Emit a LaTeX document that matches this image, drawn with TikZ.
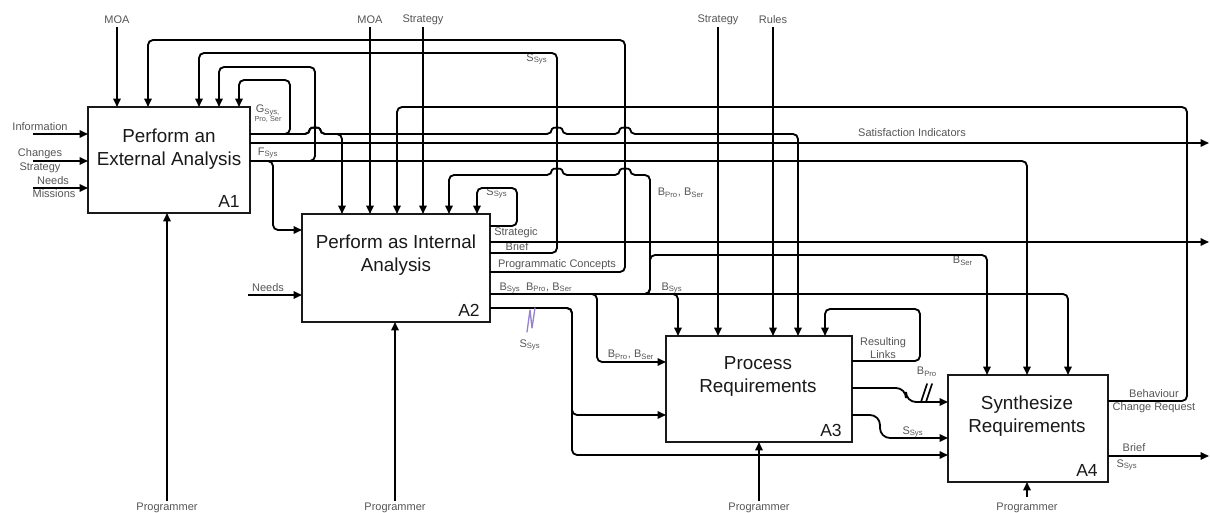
\documentclass[tikz,border=0pt]{standalone}
\usepackage{fontspec}
\setmainfont{Liberation Sans}
\usetikzlibrary{arrows.meta,positioning}
\definecolor{idink}{RGB}{25,25,25}
\definecolor{idgray}{RGB}{85,85,85}
\definecolor{idpurple}{RGB}{150,130,205}
\newcommand{\low}[1]{\textsubscript{#1}}

\begin{document}
\begin{tikzpicture}[
  x=0.6pt, y=-0.6pt,
  act/.style={draw=idink, line width=1.4pt, fill=white, inner sep=0pt, outer sep=0pt, anchor=north west},
  heading/.style={font=\fontsize{11.3}{13.8}\selectfont, text=idink, align=center, inner sep=0pt},
  idtag/.style={font=\fontsize{10.5}{12}\selectfont, text=idink, inner sep=0pt},
  arr/.style={-{Triangle[length=5pt,width=4.4pt]}, draw=black, line width=1.1pt, rounded corners=3pt},
  lab/.style={font=\fontsize{6.6}{7.4}\selectfont, text=idgray, inner sep=0pt, align=center},
  scrib/.style={line width=0.8pt, line cap=round, line join=round}
]
  \useasboundingbox (0,0) rectangle (1210,513);

  \node[act, minimum width=97.2pt, minimum height=63.6pt] (A1) at (88,107) {};
  \node[act, minimum width=112.8pt, minimum height=64.8pt] (A2) at (302,214) {};
  \node[act, minimum width=111.6pt, minimum height=63.6pt] (A3) at (666,336) {};
  \node[act, minimum width=96pt, minimum height=64.2pt] (A4) at (948,375) {};

  \node[heading] (A1t) at (169,149) {Perform an\\External Analysis};
  \node[heading] (A2t) at (396,255) {Perform as Internal\\Analysis};
  \node[heading] (A3t) at (758,376) {Process\\Requirements};
  \node[heading] (A4t) at (1027,416) {Synthesize\\Requirements};

  \node[idtag, above left=3pt and 6pt of A1.south east] (A1n) {A1};
  \node[idtag, above left=3pt and 6pt of A2.south east] (A2n) {A2};
  \node[idtag, above left=3pt and 6pt of A3.south east] (A3n) {A3};
  \node[idtag, above left=3pt and 6pt of A4.south east] (A4n) {A4};

  \coordinate (inInfo) at (33,134);
  \coordinate (inChg) at (33,161);
  \coordinate (inMis) at (33,188);
  \coordinate (inNeeds) at (248,295);
  \coordinate (ctMoaA) at (117,27);
  \coordinate (ctMoaB) at (370,27);
  \coordinate (ctStrB) at (423,27);
  \coordinate (ctStrC) at (718,27);
  \coordinate (ctRules) at (773,27);
  \coordinate (mcA) at (167,501);
  \coordinate (mcB) at (395,501);
  \coordinate (mcC) at (759,501);
  \coordinate (mcD) at (1027,497);
  \coordinate (outSat) at (1209,143);
  \coordinate (outStrat) at (1209,242);
  \coordinate (outBrief) at (1209,456);

  \node[lab] (lInfo) at (40,127) {Information};
  \node[lab] (lChg) at (40,154) {Changes};
  \node[lab] (lStrA) at (40,168) {Strategy};
  \node[lab] (lNeedsA) at (53,181) {Needs};
  \node[lab] (lMis) at (54,194) {Missions};
  \node[lab] (lNeedsB) at (268,288) {Needs};
  \node[lab] (lMoaA) at (117,20) {MOA};
  \node[lab] (lMoaB) at (370,20) {MOA};
  \node[lab] (lStrB) at (423,20) {Strategy};
  \node[lab] (lStrC) at (718,20) {Strategy};
  \node[lab] (lRules) at (773,20) {Rules};
  \node[lab] (lPa) at (167,508) {Programmer};
  \node[lab] (lPb) at (395,508) {Programmer};
  \node[lab] (lPc) at (759,508) {Programmer};
  \node[lab] (lPd) at (1027,508) {Programmer};

  \node[lab] (lG) at (268,114) {G\low{Sys,}\\[-2pt]{\fontsize{4.4}{5}\selectfont Pro, Ser}};
  \node[lab] (lF) at (268,153) {F\low{Sys}};
  \node[lab] (lSat) at (912,133) {Satisfaction Indicators};
  \node[lab] (lStop) at (537,59) {S\low{Sys}};
  \node[lab] (lSloop) at (497,193) {S\low{Sys}};
  \node[lab] (lStrat) at (516,233) {Strategic};
  \node[lab] (lBrief) at (517,247) {Brief};
  \node[lab] (lProg) at (557,265) {Programmatic Concepts};
  \node[lab] (lBall) at (536,288) {B\low{Sys}\enspace B\low{Pro}, B\low{Ser}};
  \node[lab] (lBloop) at (681,193) {B\low{Pro}, B\low{Ser}};
  \node[lab] (lBsys) at (672,288) {B\low{Sys}};
  \node[lab] (lBin) at (631,355) {B\low{Pro}, B\low{Ser}};
  \node[lab] (lBser) at (963,261) {B\low{Ser}};
  \node[lab] (lSmark) at (530,345) {S\low{Sys}};
  \node[lab] (lRes) at (883,348) {Resulting\\Links};
  \node[lab] (lBpro) at (927,372) {B\low{Pro}};
  \node[lab] (lSa) at (913,432) {S\low{Sys}};
  \node[lab] (lBeh) at (1154,394) {Behaviour};
  \node[lab] (lCR) at (1154,408) {Change Request};
  \node[lab] (lBr) at (1134,448) {Brief};
  \node[lab] (lSout) at (1127,465) {S\low{Sys}};

  \draw[arr] (inInfo) -- (A1.west |- inInfo);
  \draw[arr] (inChg) -- (A1.west |- inChg);
  \draw[arr] (inMis) -- (A1.west |- inMis);
  \draw[arr] (inNeeds) -- (A2.west |- inNeeds);
  \draw[arr] (ctMoaA) -- (A1.north -| ctMoaA);
  \draw[arr] (ctMoaB) -- (A2.north -| ctMoaB);
  \draw[arr] (ctStrB) -- (A2.north -| ctStrB);
  \draw[arr] (ctStrC) -- (A3.north -| ctStrC);
  \draw[arr] (ctRules) -- (A3.north -| ctRules);
  \draw[arr] (mcA) -- (A1.south -| mcA);
  \draw[arr] (mcB) -- (A2.south -| mcB);
  \draw[arr] (mcC) -- (A3.south -| mcC);
  \draw[arr] (mcD) -- (A4.south -| mcD);

  \draw[arr] (A1.east |- 0,134) -- (290,134) -- (290,80) -- (239,80) -- (A1.north -| 239,0);
  \draw[arr] (A1.east |- 0,134) -- (310,134) .. controls (310,127) and (320,127) .. (320,134) -- (342,134) -- (A2.north -| 342,0);
  \draw[arr] (A1.east |- 0,134) -- (310,134) .. controls (310,127) and (320,127) .. (320,134)
    -- (552,134) .. controls (552,127) and (562,127) .. (562,134)
    -- (620,134) .. controls (620,127) and (630,127) .. (630,134) -- (798,134) -- (A3.north -| 798,0);
  \draw[arr] (A1.east |- outSat) -- (outSat);
  \draw[arr] (A1.east |- 0,161) -- (315,161) -- (315,67) -- (219,67) -- (A1.north -| 219,0);
  \draw[arr] (A1.east |- 0,161) -- (273,161) -- (273,230) -- (A2.west |- 0,230);
  \draw[arr] (A1.east |- 0,161) -- (1027,161) -- (A4.north -| 1027,0);

  \draw[arr] (A2.east |- 0,226) -- (517,226) -- (517,188) -- (477,188) -- (A2.north -| 477,0);
  \draw[arr] (A2.east |- outStrat) -- (outStrat);
  \draw[arr] (A2.east |- 0,253) -- (557,253) -- (557,53) -- (199,53) -- (A1.north -| 199,0);
  \draw[arr] (A2.east |- 0,272) -- (625,272) -- (625,40) -- (148,40) -- (A1.north -| 148,0);
  \draw[arr] (A2.east |- 0,294) -- (650,294) -- (650,175)
    -- (630,175) .. controls (630,168) and (620,168) .. (620,175)
    -- (562,175) .. controls (562,168) and (552,168) .. (552,175) -- (449,175) -- (A2.north -| 449,0);
  \draw[arr] (A2.east |- 0,294) -- (650,294) -- (650,255) -- (987,255) -- (A4.north -| 987,0);
  \draw[arr] (A2.east |- 0,294) -- (597,294) -- (597,362) -- (A3.west |- 0,362);
  \draw[arr] (A2.east |- 0,294) -- (678,294) -- (A3.north -| 678,0);
  \draw[arr] (A2.east |- 0,294) -- (1068,294) -- (A4.north -| 1068,0);
  \draw[arr] (A2.east |- 0,308) -- (572,308) -- (572,415) -- (A3.west |- 0,415);
  \draw[arr] (A2.east |- 0,308) -- (572,308) -- (572,455) -- (A4.west |- 0,455);

  \draw[arr] (A3.east |- 0,361) -- (920,361) -- (920,309) -- (825,309) -- (A3.north -| 825,0);
  \draw[arr, rounded corners=6pt] (A3.east |- 0,388) -- (906,388) -- (906,402) -- (A4.west |- 0,402);
  \draw[arr, rounded corners=6pt] (A3.east |- 0,415) -- (880,415) -- (880,438) -- (A4.west |- 0,438);

  \draw[arr] (A4.east |- 0,401) -- (1187,401) -- (1187,107) -- (397,107) -- (A2.north -| 397,0);
  \draw[arr] (A4.east |- outBrief) -- (outBrief);

  \draw[scrib, idpurple] (527,332) -- (530,310) -- (532,328) -- (535,308);
  \draw[scrib, black, line width=1pt] (921,402) -- (927,384) (926,402) -- (932,384);
\end{tikzpicture}
\end{document}
